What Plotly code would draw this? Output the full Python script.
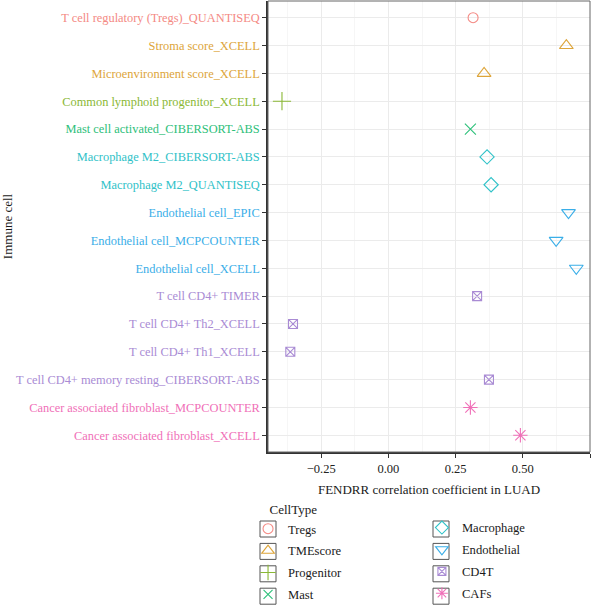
import plotly.graph_objects as go

labels = [
    "T cell regulatory (Tregs)_QUANTISEQ",
    "Stroma score_XCELL",
    "Microenvironment score_XCELL",
    "Common lymphoid progenitor_XCELL",
    "Mast cell activated_CIBERSORT-ABS",
    "Macrophage M2_CIBERSORT-ABS",
    "Macrophage M2_QUANTISEQ",
    "Endothelial cell_EPIC",
    "Endothelial cell_MCPCOUNTER",
    "Endothelial cell_XCELL",
    "T cell CD4+ TIMER",
    "T cell CD4+ Th2_XCELL",
    "T cell CD4+ Th1_XCELL",
    "T cell CD4+ memory resting_CIBERSORT-ABS",
    "Cancer associated fibroblast_MCPCOUNTER",
    "Cancer associated fibroblast_XCELL",
]
cell_types = ["Tregs", "TMEscore", "TMEscore", "Progenitor", "Mast",
              "Macrophage", "Macrophage", "Endothelial", "Endothelial", "Endothelial",
              "CD4T", "CD4T", "CD4T", "CD4T", "CAFs", "CAFs"]
values = [0.315, 0.662, 0.356, -0.396, 0.305, 0.367, 0.382, 0.670, 0.624, 0.699,
          0.330, -0.355, -0.365, 0.374, 0.305, 0.491]

groups = ["Tregs", "TMEscore", "Progenitor", "Mast",
          "Macrophage", "Endothelial", "CD4T", "CAFs"]
colors = {"Tregs": "#F48A84", "TMEscore": "#DDA53A", "Progenitor": "#8AB835",
          "Mast": "#2DC07A", "Macrophage": "#30C2C8", "Endothelial": "#3AAEE8",
          "CD4T": "#A98BD4", "CAFs": "#F070B8"}
symbols = {"Tregs": "circle-open", "TMEscore": "triangle-up-open",
           "Progenitor": "cross-thin-open", "Mast": "x-thin-open",
           "Macrophage": "diamond-open", "Endothelial": "triangle-down-open",
           "CD4T": "square-x-open", "CAFs": "asterisk-open"}
sizes = {"Tregs": 10, "TMEscore": 12, "Progenitor": 13, "Mast": 11,
         "Macrophage": 11, "Endothelial": 12, "CD4T": 9, "CAFs": 12}
legend_sizes = {"Tregs": 10, "TMEscore": 11, "Progenitor": 11, "Mast": 9,
                "Macrophage": 10, "Endothelial": 11, "CD4T": 8, "CAFs": 10}

FONT = "Liberation Serif, DejaVu Serif, serif"
fig = go.Figure()
for i, g in enumerate(groups):
    xs = [v for v, c in zip(values, cell_types) if c == g]
    ys = [l for l, c in zip(labels, cell_types) if c == g]
    fig.add_trace(go.Scatter(
        x=xs, y=ys, mode="markers", name=g, showlegend=False,
        marker=dict(symbol=symbols[g], size=sizes[g], color=colors[g],
                    line=dict(width=1.1, color=colors[g])),
    ))
for i, g in enumerate(groups):
    # legend-only entries with key-sized symbols
    fig.add_trace(go.Scatter(
        x=[None], y=[None], mode="markers", name=g,
        legend="legend" if i < 4 else "legend2",
        legendgroup=g,
        marker=dict(symbol=symbols[g], size=legend_sizes[g], color=colors[g],
                    line=dict(width=1.1, color=colors[g])),
    ))

ticktext = [f'<span style="color:{colors[c]}">{l}</span>' for l, c in zip(labels, cell_types)]

# legend key boxes (decoration, paper coordinates)
W, H = 322.0, 451.0
def px2paper(px, py):
    return (px - 268) / W, (452 - py) / H
shapes = [dict(type="rect", xref="paper", yref="paper", x0=0, x1=1, y0=0, y1=1,
               line=dict(color="#666666", width=1), fillcolor="rgba(0,0,0,0)", layer="above")]
for cx in (268, 441):
    for cy in (529, 551.4, 573.8, 596.2):
        x0, y0 = px2paper(cx - 8, cy + 8)
        x1, y1 = px2paper(cx + 8, cy - 8)
        shapes.append(dict(type="rect", xref="paper", yref="paper",
                           x0=x0, x1=x1, y0=y0, y1=y1,
                           line=dict(color="#555555", width=1),
                           fillcolor="white", layer="below"))

fig.update_layout(
    width=600, height=605,
    margin=dict(l=268, r=10, t=1, b=153, autoexpand=False),
    paper_bgcolor="white", plot_bgcolor="white",
    font=dict(family=FONT, size=13, color="#1a1a1a"),
    xaxis=dict(
        range=[-0.448, 0.75], tickvals=[-0.25, 0, 0.25, 0.5, 0.75],
        ticktext=["−0.25", "0.00", "0.25", "0.50", "0.75"],
        showgrid=True, gridcolor="#EBEBEB", gridwidth=1,
        minor=dict(dtick=0.125, tick0=0.125, showgrid=True, gridcolor="#F6F6F6", gridwidth=1),
        zeroline=False, showline=True, linecolor="#333333", linewidth=1.5,
        ticks="outside", ticklen=4, tickcolor="#333333",
        tickfont=dict(size=12.5, color="#222222"),
        title=dict(text="FENDRR correlation coefficient in LUAD", standoff=10,
                   font=dict(size=13)),
    ),
    yaxis=dict(
        type="category", categoryorder="array", categoryarray=labels[::-1],
        range=[-0.6, 15.6], tickvals=labels, ticktext=ticktext,
        showgrid=True, gridcolor="#EBEBEB", gridwidth=1,
        zeroline=False, showline=True, linecolor="#333333", linewidth=1.5,
        ticks="outside", ticklen=4, tickcolor="#333333",
        tickfont=dict(size=12.4),
        title=dict(text="Immune cell", standoff=2, font=dict(size=13)),
    ),
    legend=dict(
        title=dict(text="\u00a0" * 6 + "CellType", font=dict(size=13)),
        x=-0.062, xanchor="left", y=-0.100, yanchor="top",
        font=dict(size=12.6), tracegroupgap=2.5, itemwidth=30,
        bgcolor="rgba(0,0,0,0)",
    ),
    legend2=dict(
        x=0.478, xanchor="left", y=-0.135, yanchor="top",
        font=dict(size=12.6), tracegroupgap=2.5, itemwidth=30,
        bgcolor="rgba(0,0,0,0)",
    ),
    shapes=shapes,
)

fig.write_html("out.html")
